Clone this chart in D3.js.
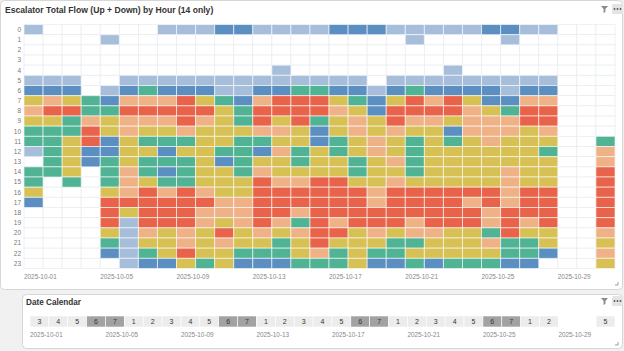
<!DOCTYPE html>
<html>
<head>
<meta charset="utf-8">
<script src="https://cdn.jsdelivr.net/npm/d3@7"></script>
<style>
  html, body { margin: 0; padding: 0; background: #f1f1f1; }
  svg { display: block; font-family: "Liberation Sans", Arial, sans-serif; }
</style>
</head>
<body>
<svg id="chart"></svg>
<script>
const width = 624, height = 351;

// x categories: one column per day
const dates = [
  "2025-10-01", "2025-10-02", "2025-10-03", "2025-10-04", "2025-10-05", "2025-10-06", "2025-10-07",
  "2025-10-08", "2025-10-09", "2025-10-10", "2025-10-11", "2025-10-12", "2025-10-13", "2025-10-14",
  "2025-10-15", "2025-10-16", "2025-10-17", "2025-10-18", "2025-10-19", "2025-10-20", "2025-10-21",
  "2025-10-22", "2025-10-23", "2025-10-24", "2025-10-25", "2025-10-26", "2025-10-27", "2025-10-28",
  "2025-10-29", "2025-10-30", "2025-10-31"
];

// y categories: hour of day
const hours = [0, 1, 2, 3, 4, 5, 6, 7, 8, 9, 10, 11, 12, 13, 14, 15, 16, 17, 18, 19, 20, 21, 22, 23];

// flow level per hour, one digit per day (0 = no data, 1 = lowest .. 6 = highest)
const flowLevelByHour = [
  "1000000111221111222111112211000",
  "0000100000000000000010000100000",
  "0000000000000000000000000000000",
  "0000000000000000000000000000000",
  "0000000000000100000000100000000",
  "1110011111111111110111111111000",
  "2220123222112233221232222122000",
  "4543255564325666432465642255000",
  "5663366666436666542666654366000",
  "4435455565436463454655455566000",
  "3336454454445542454544255545000",
  "3346243334433442345434345444003",
  "1342244244332534345434444443005",
  "0342343334234434434534444444005",
  "3340353234435444434434444544006",
  "3030354334446556644544444544006",
  "4000456565446666665666666566006",
  "2000666666556666665666656566006",
  "0000646665556656666666665666006",
  "0000616665456536566656665656006",
  "0000415454645456645455443644005",
  "0000314454544346444334445334004",
  "0000213464433345343344444332005",
  "0000012243422233342232333220004"
];

const levelColors = ["#a7bedb", "#5b8fc2", "#50b394", "#d7c154", "#efb287", "#e8634a"];

// weekday number of each date for the calendar strip (null = no data)
const weekdayNumbers = [3, 4, 5, 6, 7, 1, 2, 3, 4, 5, 6, 7, 1, 2, 3, 4, 5, 6, 7, 1, 2, 3, 4, 5, 6, 7, 1, 2, null, null, 5];

const svg = d3.select("#chart")
  .attr("width", width)
  .attr("height", height);

// panels
svg.append("rect")
  .attr("x", 0.5).attr("y", 0.5)
  .attr("width", 622).attr("height", 289)
  .attr("rx", 4)
  .attr("fill", "#fff")
  .attr("stroke", "#d6d6d6");

svg.append("rect")
  .attr("x", 22.5).attr("y", 294.5)
  .attr("width", 600).attr("height", 54)
  .attr("rx", 4)
  .attr("fill", "#fff")
  .attr("stroke", "#d6d6d6");

// titles
svg.append("text")
  .attr("x", 5).attr("y", 13)
  .attr("font-size", 8.6)
  .attr("font-weight", "bold")
  .attr("fill", "#333")
  .text("Escalator Total Flow (Up + Down) by Hour (14 only)");

svg.append("text")
  .attr("x", 26).attr("y", 305)
  .attr("font-size", 8.2)
  .attr("font-weight", "bold")
  .attr("fill", "#333")
  .text("Date Calendar");

// header icons (filter + more)
function headerIcons(y) {
  svg.append("path")
    .attr("d", `M601,${y - 3} h7 l-2.6,3 v3 l-1.8,1 v-4 z`)
    .attr("fill", "#8a8a8a");
  svg.append("rect")
    .attr("x", 612).attr("y", y - 5)
    .attr("width", 11).attr("height", 10)
    .attr("rx", 1.5)
    .attr("fill", "#e4e4e4");
  [614.5, 617.5, 620.5].forEach(cx => {
    svg.append("circle").attr("cx", cx).attr("cy", y).attr("r", 0.9).attr("fill", "#555");
  });
}
headerIcons(9);
headerIcons(301);

// resize corners
[[618, 285], [618, 345]].forEach(([cx, cy]) => {
  svg.append("path")
    .attr("d", `M${cx},${cy - 3} v3 h-3`)
    .attr("fill", "none")
    .attr("stroke", "#888")
    .attr("stroke-width", 0.8);
});

// heatmap scales
const x = d3.scaleBand().domain(dates).range([24, 615]);
const y = d3.scaleBand().domain(hours).range([24.5, 268.5]);
const color = d3.scaleOrdinal().domain([1, 2, 3, 4, 5, 6]).range(levelColors);

const cells = [];
hours.forEach((h, hi) => {
  flowLevelByHour[hi].split("").forEach((c, di) => {
    cells.push({ hour: h, date: dates[di], level: +c });
  });
});

// faint grid behind all slots
svg.append("g")
  .selectAll("rect")
  .data(cells)
  .join("rect")
  .attr("x", d => x(d.date))
  .attr("y", d => y(d.hour))
  .attr("width", x.bandwidth())
  .attr("height", y.bandwidth())
  .attr("fill", "#fff")
  .attr("stroke", "#eaedf1")
  .attr("stroke-width", 0.8);

// coloured cells
svg.append("g")
  .selectAll("rect")
  .data(cells.filter(d => d.level > 0))
  .join("rect")
  .attr("x", d => x(d.date))
  .attr("y", d => y(d.hour))
  .attr("width", x.bandwidth())
  .attr("height", y.bandwidth())
  .attr("fill", d => color(d.level))
  .attr("stroke", "#fff")
  .attr("stroke-opacity", 0.6)
  .attr("stroke-width", 1);

// y axis labels
svg.append("g")
  .selectAll("text")
  .data(hours)
  .join("text")
  .attr("x", 21)
  .attr("y", d => y(d) + y.bandwidth() / 2)
  .attr("dy", "0.35em")
  .attr("text-anchor", "end")
  .attr("font-size", 6.5)
  .attr("fill", "#777")
  .text(d => d);

// x axis labels, every 4th day
const tickDates = dates.filter((d, i) => i % 4 === 0);
svg.append("g")
  .selectAll("text")
  .data(tickDates)
  .join("text")
  .attr("x", d => x(d))
  .attr("y", 278.5)
  .attr("font-size", 6.4)
  .attr("fill", "#888")
  .text(d => d);

// calendar strip
const xc = d3.scaleBand().domain(dates).range([30, 615]);
const calendar = dates.map((d, i) => ({ date: d, weekday: weekdayNumbers[i] }));

const calCell = svg.append("g")
  .selectAll("g")
  .data(calendar)
  .join("g")
  .attr("transform", d => `translate(${xc(d.date)},316)`);

calCell.append("rect")
  .attr("width", xc.bandwidth())
  .attr("height", 11)
  .attr("fill", d => d.weekday === null ? "#fff" : (d.weekday >= 6 ? "#a2a2a2" : "#ececec"))
  .attr("stroke", "#fff")
  .attr("stroke-width", 0.6);

calCell.append("text")
  .attr("x", xc.bandwidth() / 2)
  .attr("y", 5.5)
  .attr("dy", "0.35em")
  .attr("text-anchor", "middle")
  .attr("font-size", 7)
  .attr("fill", "#333")
  .text(d => d.weekday === null ? "" : d.weekday);

svg.append("g")
  .selectAll("text")
  .data(tickDates)
  .join("text")
  .attr("x", d => xc(d))
  .attr("y", 337)
  .attr("font-size", 6.4)
  .attr("fill", "#888")
  .text(d => d);
</script>
</body>
</html>
